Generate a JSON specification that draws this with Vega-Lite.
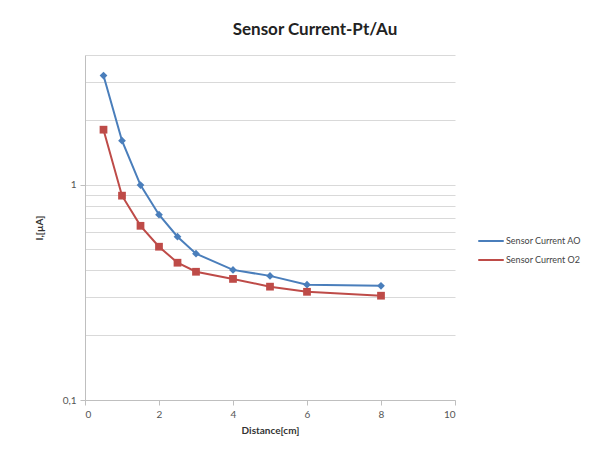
{
  "$schema": "https://vega.github.io/schema/vega-lite/v6.json",
  "width": 370,
  "height": 345,
  "autosize": {"type": "none"},
  "padding": {"left": 85, "top": 55, "right": 161, "bottom": 56},
  "background": "white",
  "config": {
    "font": "Lato",
    "view": {"stroke": null}
  },
  "title": {
    "text": "Sensor Current-Pt/Au",
    "fontSize": 17,
    "fontWeight": "bold",
    "color": "#222222",
    "dx": 45,
    "offset": 16,
    "font": "Lato"
  },
  "data": {
    "values": [
      {"x": 0.5, "y": 3.21, "s": "Sensor Current AO"},
      {"x": 1, "y": 1.6, "s": "Sensor Current AO"},
      {"x": 1.5, "y": 0.995, "s": "Sensor Current AO"},
      {"x": 2, "y": 0.725, "s": "Sensor Current AO"},
      {"x": 2.5, "y": 0.573, "s": "Sensor Current AO"},
      {"x": 3, "y": 0.478, "s": "Sensor Current AO"},
      {"x": 4, "y": 0.402, "s": "Sensor Current AO"},
      {"x": 5, "y": 0.377, "s": "Sensor Current AO"},
      {"x": 6, "y": 0.343, "s": "Sensor Current AO"},
      {"x": 8, "y": 0.339, "s": "Sensor Current AO"},
      {"x": 0.5, "y": 1.8, "s": "Sensor Current O2"},
      {"x": 1, "y": 0.889, "s": "Sensor Current O2"},
      {"x": 1.5, "y": 0.644, "s": "Sensor Current O2"},
      {"x": 2, "y": 0.515, "s": "Sensor Current O2"},
      {"x": 2.5, "y": 0.434, "s": "Sensor Current O2"},
      {"x": 3, "y": 0.394, "s": "Sensor Current O2"},
      {"x": 4, "y": 0.365, "s": "Sensor Current O2"},
      {"x": 5, "y": 0.336, "s": "Sensor Current O2"},
      {"x": 6, "y": 0.318, "s": "Sensor Current O2"},
      {"x": 8, "y": 0.305, "s": "Sensor Current O2"}
    ]
  },
  "encoding": {
    "x": {
      "field": "x",
      "type": "quantitative",
      "scale": {"domain": [0, 10], "nice": false},
      "axis": {
        "title": "Distance[cm]",
        "values": [0, 2, 4, 6, 8, 10],
        "grid": false,
        "domainColor": "#bfbfbf",
        "tickColor": "#bfbfbf",
        "tickSize": 5,
        "labelFontSize": 10,
        "labelColor": "#555555",
        "labelPadding": 4,
        "titleFontSize": 10,
        "titleFontWeight": "bold",
        "titleColor": "#333333",
        "titlePadding": 6
      }
    },
    "y": {
      "field": "y",
      "type": "quantitative",
      "scale": {"type": "log", "domain": [0.1, 4], "nice": false},
      "axis": {
        "title": "I,[µA]",
        "values": [0.1, 0.2, 0.3, 0.4, 0.5, 0.6, 0.7, 0.8, 0.9, 1, 2, 3, 4],
        "labelExpr": "datum.value == 1 ? '1' : (datum.value == 0.1 ? '0,1' : '')",
        "grid": true,
        "gridColor": "#d9d9d9",
        "gridWidth": 1,
        "domainColor": "#bfbfbf",
        "tickColor": {"condition": {"test": "datum.value == 1 || datum.value == 0.1", "value": "#bfbfbf"}, "value": "transparent"},
        "tickSize": 5,
        "labelFontSize": 10,
        "labelColor": "#555555",
        "labelPadding": 4,
        "titleFontSize": 10,
        "titleFontWeight": "bold",
        "titleColor": "#333333",
        "titlePadding": 18
      }
    }
  },
  "resolve": {"legend": {"color": "independent"}},
  "layer": [
    {
      "mark": {"type": "line", "strokeWidth": 2},
      "encoding": {
        "color": {
          "field": "s",
          "type": "nominal",
          "scale": {"domain": ["Sensor Current AO", "Sensor Current O2"], "range": ["#4a7ebb", "#be4b48"]},
          "legend": {
            "title": null,
            "orient": "none",
            "legendX": 392,
            "legendY": 172,
            "labelFontSize": 9,
            "labelColor": "#444444",
            "symbolType": "stroke",
            "symbolStrokeWidth": 2,
            "symbolSize": 650,
            "rowPadding": -6,
            "labelOffset": 1
          }
        }
      }
    },
    {
      "mark": {"type": "point", "filled": true, "opacity": 1},
      "encoding": {
        "color": {
          "field": "s",
          "type": "nominal",
          "scale": {"domain": ["Sensor Current AO", "Sensor Current O2"], "range": ["#4a7ebb", "#be4b48"]},
          "legend": null
        },
        "shape": {
          "field": "s",
          "type": "nominal",
          "scale": {"domain": ["Sensor Current AO", "Sensor Current O2"], "range": ["diamond", "square"]},
          "legend": null
        },
        "size": {"value": 60}
      }
    }
  ]
}
